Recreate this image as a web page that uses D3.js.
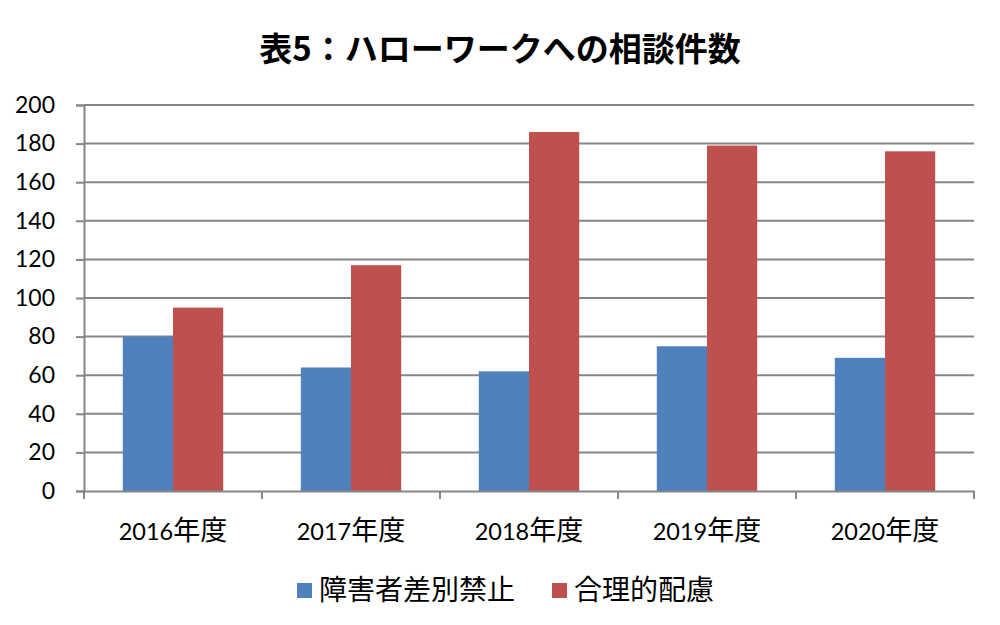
<!DOCTYPE html>
<html>
<head>
<meta charset="utf-8">
<script src="https://cdn.jsdelivr.net/npm/d3@7.9.0/dist/d3.min.js"></script>
<style>
  body { margin: 0; background: #fff; }
  svg { display: block; }
  svg text { font-family: "Lato", "Noto Sans CJK JP", sans-serif; }
  .cjk { font-family: "Noto Sans CJK JP", sans-serif; }
</style>
</head>
<body>
<svg width="1000" height="625"></svg>
<script>
const years = ['2016年度', '2017年度', '2018年度', '2019年度', '2020年度'];
const seriesNames = ['障害者差別禁止', '合理的配慮'];
const discrimination = [80, 64, 62, 75, 69];
const accommodation = [95, 117, 186, 179, 176];
const yTicks = [0, 20, 40, 60, 80, 100, 120, 140, 160, 180, 200];
const colors = ['#4f81bd', '#c0504d'];

const svg = d3.select('svg');
const margin = { top: 105, right: 26, bottom: 134, left: 84 };
const width = 1000 - margin.left - margin.right;
const height = 625 - margin.top - margin.bottom;

const g = svg.append('g').attr('transform', `translate(${margin.left},${margin.top})`);

const x = d3.scaleBand().domain(years).range([0, width]).paddingInner(0).paddingOuter(0);
const xInner = d3.scaleBand().domain(seriesNames).range([x.bandwidth() * 0.218, x.bandwidth() * 0.782]);
const y = d3.scaleLinear().domain([0, 200]).range([height, 0]);

// title
svg.append('text')
  .attr('class', 'cjk')
  .attr('x', 500).attr('y', 61)
  .attr('text-anchor', 'middle')
  .style('font-size', '33px').style('font-weight', 'bold')
  .text('表5：ハローワークへの相談件数');

// gridlines
g.selectAll('.grid').data(yTicks.filter(d => d > 0)).join('line')
  .attr('x1', 0).attr('x2', width)
  .attr('y1', d => y(d)).attr('y2', d => y(d))
  .attr('stroke', '#868686').attr('stroke-width', 2);

// y axis
const yAxis = g.append('g').call(d3.axisLeft(y).tickValues(yTicks).tickSize(8).tickPadding(21));
yAxis.select('.domain').attr('stroke', '#868686').attr('stroke-width', 2);
yAxis.selectAll('.tick line').attr('stroke', '#868686').attr('stroke-width', 2);
yAxis.selectAll('.tick text')
  .style('font-family', '"Lato", sans-serif')
  .style('font-size', '23px').attr('fill', '#000');

// bars
const data = years.map((yr, i) => ({ year: yr, values: [discrimination[i], accommodation[i]] }));
const groups = g.selectAll('.grp').data(data).join('g')
  .attr('transform', d => `translate(${x(d.year)},0)`);
groups.selectAll('rect').data(d => d.values.map((v, j) => ({ key: seriesNames[j], v, j }))).join('rect')
  .attr('x', d => xInner(d.key))
  .attr('width', xInner.bandwidth())
  .attr('y', d => y(d.v))
  .attr('height', d => height - y(d.v))
  .attr('fill', d => colors[d.j]);

// x axis
const xAxis = g.append('g').attr('transform', `translate(0,${height})`)
  .call(d3.axisBottom(x).tickSize(0).tickPadding(30));
xAxis.select('.domain').attr('stroke', '#868686').attr('stroke-width', 2);
xAxis.selectAll('.tick text').each(function(d) {
  const t = d3.select(this).text(null).attr('fill', '#000').attr('dy', null).attr('y', 49);
  t.append('tspan').style('font-family', '"Lato", sans-serif').style('font-size', '23.5px').text(d.replace('年度', ''));
  t.append('tspan').attr('class', 'cjk').style('font-size', '27px').text('年度');
});
g.selectAll('.xtick').data(d3.range(years.length + 1)).join('line')
  .attr('x1', i => i * x.bandwidth()).attr('x2', i => i * x.bandwidth())
  .attr('y1', height).attr('y2', height + 8)
  .attr('stroke', '#868686').attr('stroke-width', 2);

// legend
const legendX = [297, 552];
const legend = svg.selectAll('.legend').data(seriesNames).join('g')
  .attr('transform', (d, i) => `translate(${legendX[i]},583)`);
legend.append('rect').attr('width', 15).attr('height', 15).attr('fill', (d, i) => colors[i]);
legend.append('text')
  .attr('class', 'cjk')
  .attr('x', 22).attr('y', 17)
  .style('font-size', '28px')
  .text(d => d);
</script>
</body>
</html>
